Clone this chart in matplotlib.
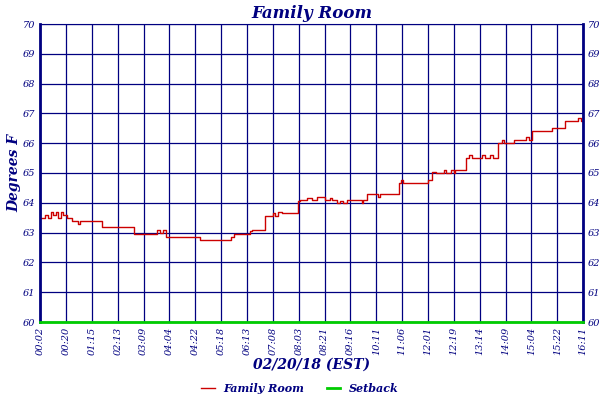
import matplotlib
matplotlib.use("Agg")
import matplotlib.pyplot as plt

tick_labels = ["00:02","00:20","01:15","02:13","03:09","04:04","04:22","05:18","06:13","07:08",
               "08:03","08:21","09:16","10:11","11:06","12:01","12:19","13:14","14:09","15:04","15:22","16:11"]
room_x = [0,0.2,0.3,0.4,0.5,0.6,0.7,0.8,0.9,1.04,1.24,1.45,1.55,2.39,3.63,4.5,4.65,4.75,4.86,6.18,7.37,7.5,
          8.11,8.2,8.69,9.0,9.1,9.2,9.34,9.96,10.04,10.3,10.5,10.7,11.0,11.2,11.3,11.47,11.6,11.7,11.85,12.43,
          12.5,12.63,13.05,13.13,13.86,13.95,14.05,14.98,15.17,15.3,15.6,15.7,15.9,16.0,16.05,16.45,16.6,
          16.7,17.1,17.2,17.4,17.5,17.72,17.85,17.95,18.34,18.8,18.9,19.03,19.8,20.3,20.8,20.9,21.0]
room_y = [63.5,63.6,63.5,63.7,63.6,63.7,63.5,63.7,63.6,63.5,63.4,63.3,63.4,63.2,62.95,63.1,63.0,63.1,62.85,62.75,
          62.85,62.95,63.05,63.1,63.55,63.65,63.55,63.7,63.65,64.05,64.1,64.15,64.1,64.2,64.1,64.15,64.1,64.0,
          64.05,64.0,64.1,64.0,64.1,64.3,64.2,64.3,64.65,64.75,64.65,64.75,65.05,65.0,65.1,65.0,65.1,65.0,65.1,
          65.5,65.6,65.5,65.6,65.5,65.6,65.5,66.0,66.1,66.0,66.1,66.2,66.1,66.4,66.5,66.75,66.85,66.75,66.75]
setback_x = [0, 21]
setback_y = [60, 60]

navy = "#000080"
plt.rcParams['font.family'] = 'DejaVu Serif'
fig = plt.figure(figsize=(6, 4), dpi=100)
ax = fig.add_axes([0.067, 0.195, 0.905, 0.745])
ax.step(room_x, room_y, where="post", color="#cc0000", lw=1, label="Family Room")
ax.plot(setback_x, setback_y, color="#00cc00", lw=2, label="Setback", clip_on=False, zorder=5)
ax.set_xlim(0, 21)
ax.set_ylim(60, 70)
ax.set_xticks(range(len(tick_labels)))
ax.set_xticklabels(tick_labels, rotation=90, fontsize=7, color=navy, style="italic")
ax.set_yticks(range(60, 71))
ax.tick_params(axis="y", labelsize=7, labelcolor=navy, right=True, labelright=True, length=0)
ax.tick_params(axis="x", length=0)
for lab in ax.get_yticklabels():
    lab.set_style("italic")
ax.grid(True, color=navy, lw=0.9)
for s in ax.spines.values():
    s.set_color(navy)
ax.spines["left"].set_linewidth(2)
ax.spines["right"].set_linewidth(2)
ax.set_title("Family Room", color=navy, fontsize=12, style="italic", fontweight="bold", pad=4)
ax.set_ylabel("Degrees F", color=navy, fontsize=10, style="italic", fontweight="bold", labelpad=1)
ax.set_xlabel("02/20/18 (EST)", color=navy, fontsize=10, style="italic", fontweight="bold", labelpad=2)
fig.legend(loc="lower center", ncol=2, frameon=False, bbox_to_anchor=(0.5, -0.01),
           prop=dict(size=8, style="italic", weight="bold"), labelcolor=navy, handlelength=1.2)
fig.savefig("out.png")
